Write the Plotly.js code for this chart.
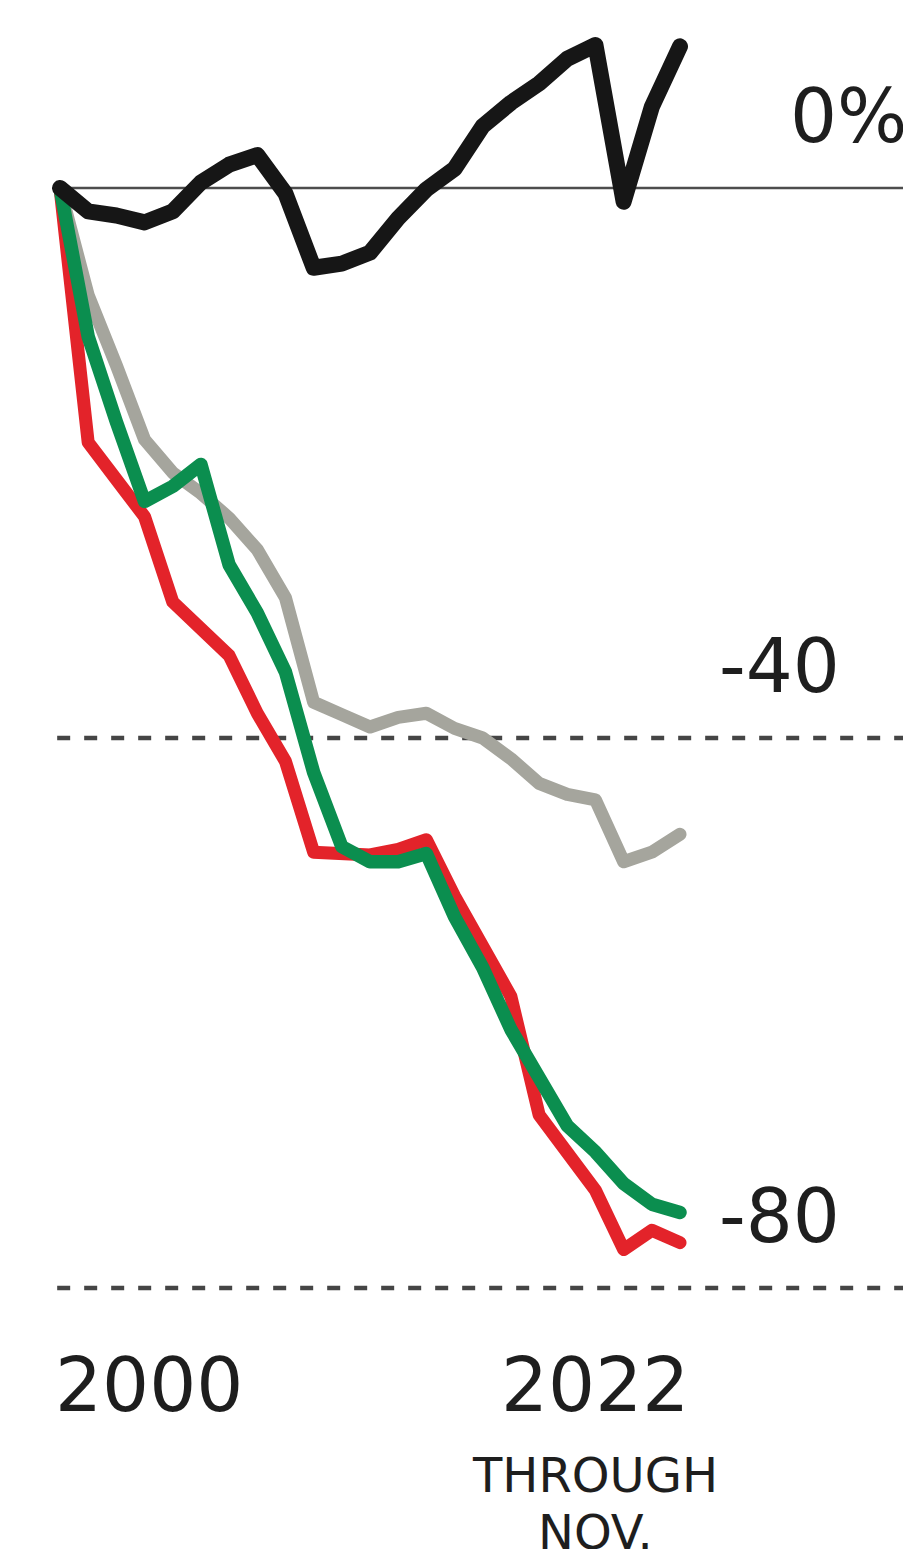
<!DOCTYPE html>
<html>
<head>
<meta charset="utf-8">
<script src="https://cdn.plot.ly/plotly-3.0.1.min.js"></script>
<style>
  html, body { margin: 0; padding: 0; background: #ffffff; }
  #chart { width: 903px; height: 1549px; }
  .js-line { stroke-linejoin: round !important; stroke-linecap: round !important; }
</style>
</head>
<body>
<div id="chart"></div>
<script>
// Yearly points, 2000 through November 2022 (percent change since 2000)
const years = [2000, 2001, 2002, 2003, 2004, 2005, 2006, 2007, 2008, 2009, 2010, 2011,
               2012, 2013, 2014, 2015, 2016, 2017, 2018, 2019, 2020, 2021, 2022];

const blackSeries = [0, -1.7, -2.0, -2.5, -1.7, 0.4, 1.7, 2.4, -0.4, -5.8, -5.5, -4.7,
                     -2.2, -0.1, 1.4, 4.5, 6.2, 7.6, 9.4, 10.4, -1.0, 5.9, 10.3];

const graySeries  = [0, -7.8, -12.9, -18.3, -20.7, -22.2, -24.0, -26.3, -29.8, -37.4, -38.3, -39.2,
                     -38.5, -38.2, -39.3, -40.0, -41.5, -43.3, -44.1, -44.5, -49.0, -48.3, -47.0];

const greenSeries = [0, -10.8, -17.0, -22.8, -21.7, -20.1, -27.4, -30.9, -35.2, -42.5, -47.9, -49.0,
                     -49.0, -48.4, -53.0, -56.7, -61.2, -64.6, -68.2, -70.1, -72.4, -73.9, -74.5];

const redSeries   = [0, -18.5, -21.2, -23.9, -30.1, -32.0, -34.0, -38.2, -41.7, -48.3, -48.4, -48.5,
                     -48.1, -47.4, -51.5, -55.1, -58.8, -67.4, -70.0, -72.9, -77.2, -75.8, -76.7];

// Value axis labels
const yTickValues = [0, -40, -80];
const yTickLabels = ['0%', '-40', '-80'];

// Time axis labels
const xStartLabel = '2000';
const xEndLabel = '2022';
const xEndNote = ['THROUGH', 'NOV.'];

const labelFont = 'DejaVu Sans, Liberation Sans, Arial, sans-serif';
const textColor = '#1e1e1e';

function lineTrace(values, color, width) {
  return {
    x: years,
    y: values,
    type: 'scatter',
    mode: 'lines',
    line: { color: color, width: width },
    hoverinfo: 'skip',
    showlegend: false
  };
}

// Drawn bottom to top
const traces = [
  lineTrace(graySeries,  '#a5a59d', 13),
  lineTrace(redSeries,   '#e3232a', 13),
  lineTrace(greenSeries, '#0b8e4f', 13.5),
  lineTrace(blackSeries, '#161616', 16)
];

// Reference lines: solid at zero, dashed elsewhere
const shapes = yTickValues.map(function (v) {
  const isZero = v === 0;
  return {
    type: 'line',
    layer: 'below',
    xref: 'x', yref: 'y',
    x0: isZero ? 2000 : 1999.9,
    x1: 2030,
    y0: v, y1: v,
    line: isZero
      ? { color: '#4d4d4d', width: 2.5 }
      : { color: '#454545', width: 4.5, dash: '13px,14px' }
  };
});

const annotations = [];

// Value labels sit above their reference lines
yTickValues.forEach(function (v, i) {
  const label = yTickLabels[i];
  const hasSuffix = label.indexOf('%') !== -1;
  annotations.push({
    xref: 'paper', yref: 'y',
    x: hasSuffix ? 0.8726 : 0.9324,
    xanchor: hasSuffix ? 'left' : 'right',
    y: v, yanchor: 'middle', yshift: 72,
    text: label, showarrow: false,
    font: { family: labelFont, size: 74, color: textColor }
  });
});

// Time labels under the chart
annotations.push({
  xref: 'x', yref: 'paper',
  x: years[0], xanchor: 'left', xshift: -7,
  y: 0.1059, yanchor: 'middle',
  text: xStartLabel, showarrow: false,
  font: { family: labelFont, size: 74, color: textColor }
});
annotations.push({
  xref: 'x', yref: 'paper',
  x: years[years.length - 1], xanchor: 'right', xshift: 11,
  y: 0.1059, yanchor: 'middle',
  text: xEndLabel, showarrow: false,
  font: { family: labelFont, size: 74, color: textColor }
});
annotations.push({
  xref: 'x', yref: 'paper',
  x: 2019, xanchor: 'center',
  y: 0.0478, yanchor: 'middle',
  text: xEndNote[0], showarrow: false,
  font: { family: labelFont, size: 48, color: textColor }
});
annotations.push({
  xref: 'x', yref: 'paper',
  x: 2019, xanchor: 'center',
  y: 0.0110, yanchor: 'middle',
  text: xEndNote[1], showarrow: false,
  font: { family: labelFont, size: 48, color: textColor }
});

const layout = {
  width: 903,
  height: 1549,
  margin: { l: 0, r: 0, t: 0, b: 0, pad: 0 },
  paper_bgcolor: '#ffffff',
  plot_bgcolor: '#ffffff',
  showlegend: false,
  xaxis: {
    range: [1997.871, 2029.913],
    visible: false,
    fixedrange: true
  },
  yaxis: {
    range: [-98.98, 13.673],
    visible: false,
    fixedrange: true
  },
  shapes: shapes,
  annotations: annotations
};

Plotly.newPlot('chart', traces, layout, { displayModeBar: false, staticPlot: true });
</script>
</body>
</html>
